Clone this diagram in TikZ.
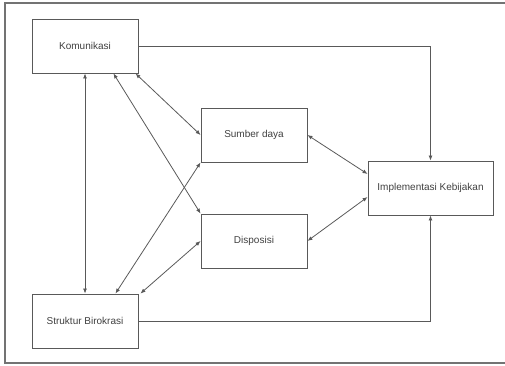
\documentclass[tikz,border=0pt]{standalone}
\usepackage{fontspec}
\setmainfont{Liberation Sans}
\usepackage{tikz}
\usetikzlibrary{positioning,arrows.meta}
\tikzstyle{block}  = [rectangle, draw=black!65, line width=0.9pt, minimum width=106pt, minimum height=54pt, inner sep=0pt, text=black!75, font=\fontsize{10}{12}\selectfont]
\tikzstyle{arrow}  = [draw=black!65, line width=0.8pt, -{Latex[length=5pt,width=4pt]}]
\tikzstyle{biarrow} = [draw=black!65, line width=0.8pt, {Latex[length=5pt,width=4pt]}-{Latex[length=5pt,width=4pt]}]

\begin{document}
\begin{tikzpicture}[x=1pt,y=-1pt]
		\useasboundingbox (0,0) rectangle (505,366);
		\draw[black!55, line width=1.5pt] (506,3) -- (5,3) -- (5,363) -- (506,363);

		\node[block] (kom) at (85,46) {Komunikasi};
		\node[block] (str) at (85,321) {Struktur Birokrasi};
		\node[block] (sum) at (254,135) {Sumber daya};
		\node[block] (dis) at (254,241) {Disposisi};
		\node[block, minimum width=125pt] (imp) at (430.5,188) {Implementasi Kebijakan};

		\draw[arrow] (kom.east) -| (imp.north);
		\draw[arrow] (str.east) -| (imp.south);

		\draw[biarrow] (kom.south) -- (str.north);
		\draw[biarrow] ([xshift=-25pt]kom.south east) -- (dis.north west);
		\draw[biarrow] ([xshift=-3pt]kom.south east) -- (sum.west);
		\draw[biarrow] ([xshift=-23pt]str.north east) -- (sum.south west);
		\draw[biarrow] ([xshift=2pt]str.north east) -- (dis.west);

		\draw[biarrow] (sum.east) -- ([yshift=14pt]imp.west);
		\draw[biarrow] (dis.east) -- ([yshift=-9pt]imp.west);
	\end{tikzpicture}
\end{document}
